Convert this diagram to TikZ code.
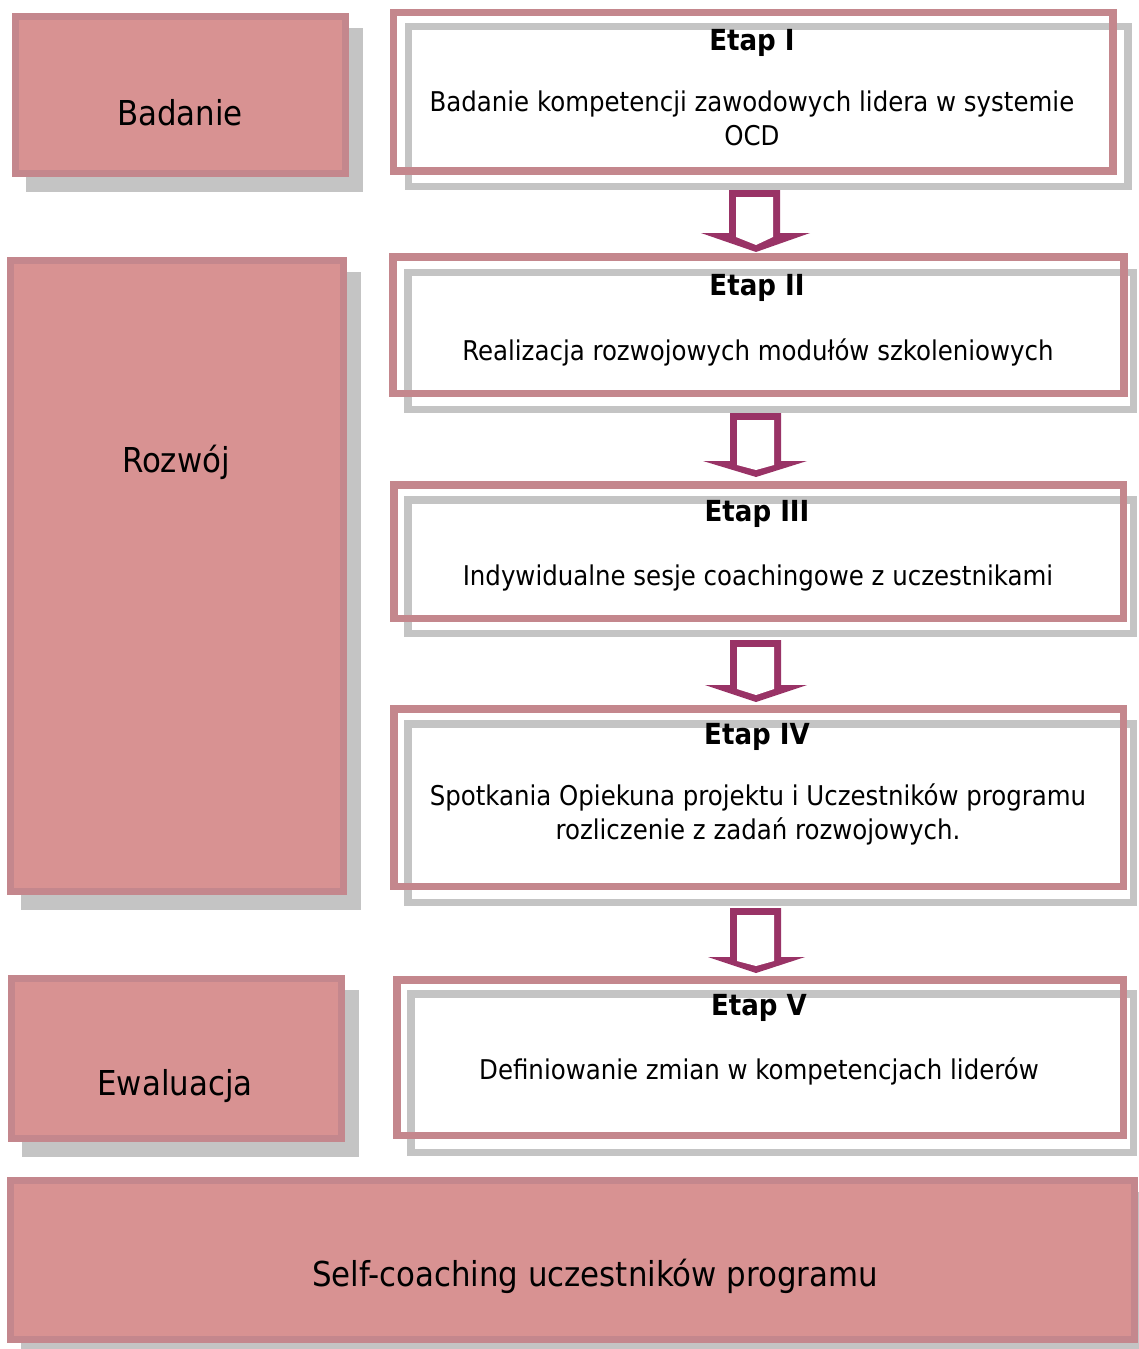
\documentclass[tikz,border=0pt]{standalone}
\usepackage{fontspec}
\setmainfont{DejaVu Sans Condensed}
\usetikzlibrary{backgrounds}
\definecolor{boxfill}{HTML}{D89292}
\definecolor{boxedge}{HTML}{C4878D}
\definecolor{shadowc}{HTML}{C4C4C4}
\definecolor{arrowc}{HTML}{993366}
\tikzset{
  leftbox/.style={draw=boxedge, fill=boxfill, line width=7pt, inner sep=0pt},
  bigtext/.style={font=\fontsize{34.3}{40}\selectfont, inner sep=0pt, text=black},
  grayframe/.style={draw=shadowc, line width=7.5pt},
  pinkframe/.style={draw=boxedge, line width=7.5pt},
  titletext/.style={font=\bfseries\fontsize{29}{34}\selectfont, inner sep=0pt},
  bodytext/.style={font=\fontsize{27.2}{34}\selectfont, inner sep=0pt, align=center},
}
\newcommand\BlockArr[8]{% xl xr ytop xwl xwr ywing ytip xtip
  \fill[arrowc] (#1,#3) -- (#2,#3) -- (#2,#6) -- (#5,#6) -- (#8,#7) -- (#4,#6) -- (#1,#6) -- cycle;
  \fill[white] (#1+7,#3+7) -- (#2-7,#3+7) -- (#2-7,#6+4) -- (#8,#7-7) -- (#1+7,#6+4) -- cycle;
}
\begin{document}
\begin{tikzpicture}[x=1pt,y=-1pt]
\useasboundingbox (0,0) rectangle (1138,1349);

% left boxes
\node[leftbox, minimum width=330pt, minimum height=157pt] (bad) at (180.5,95) {};
\node[leftbox, minimum width=333pt, minimum height=631pt] (roz) at (177,576) {};
\node[leftbox, minimum width=330pt, minimum height=160pt] (ewa) at (176.5,1058.5) {};
\node[leftbox, minimum width=1124pt, minimum height=159pt] (self) at (572.5,1260) {};
\begin{pgfonlayer}{background}
  \foreach \n in {bad,roz,ewa,self}
    \fill[shadowc] ([shift={(14,15)}]\n.north west) rectangle ([shift={(14,15)}]\n.south east);
\end{pgfonlayer}
\node[bigtext] (badt) at (180,113) {Badanie};
\node[bigtext] (rozt) at (176,462) {Rozwój};
\node[bigtext] (ewat) at (175,1086) {Ewaluacja};
\node[bigtext] (selft) at (595,1276) {Self-coaching uczestników programu};

% stage frames
\node[grayframe, minimum width=719.5pt, minimum height=160pt] (g1) at (768.25,106.5) {};
\draw[pinkframe] (393.5,12.5) rectangle (1113,171);
\node[grayframe, minimum width=725.5pt, minimum height=137pt] (g2) at (770.75,341) {};
\draw[pinkframe] (393,257) rectangle (1124,393.5);
\node[grayframe, minimum width=725.5pt, minimum height=133.5pt] (g3) at (770.75,566.5) {};
\draw[pinkframe] (393.75,484.75) rectangle (1123.5,618.25);
\node[grayframe, minimum width=725.5pt, minimum height=178.5pt] (g4) at (770.75,813) {};
\draw[pinkframe] (393.75,708.75) rectangle (1123.5,886.25);
\node[grayframe, minimum width=722.5pt, minimum height=158.5pt] (g5) at (772.25,1073) {};
\draw[pinkframe] (396.75,979.75) rectangle (1123.5,1135.25);

% stage texts
\node[titletext] (t1) at (752,43) {Etap I};
\node[bodytext] (b1) at (752,118) {Badanie kompetencji zawodowych lidera w systemie\\OCD};
\node[titletext] (t2) at (757,288) {Etap II};
\node[bodytext] (b2) at (758,352) {Realizacja rozwojowych modułów szkoleniowych};
\node[titletext] (t3) at (757,514) {Etap III};
\node[bodytext] (b3) at (758,578) {Indywidualne sesje coachingowe z uczestnikami};
\node[titletext] (t4) at (757,737) {Etap IV};
\node[bodytext] (b4) at (758,814) {Spotkania Opiekuna projektu i Uczestników programu\\rozliczenie z zadań rozwojowych.};
\node[titletext] (t5) at (759,1008) {Etap V};
\node[bodytext] (b5) at (759,1071) {Definiowanie zmian w kompetencjach liderów};

% arrows
\BlockArr{729}{780}{190}{701}{810}{233}{252}{756}
\BlockArr{730}{781}{413}{703}{807}{461}{477}{756}
\BlockArr{730}{781}{640}{705}{807}{685}{702}{756}
\BlockArr{730}{781}{908}{708}{805}{957}{973}{756}
\end{tikzpicture}
\end{document}
